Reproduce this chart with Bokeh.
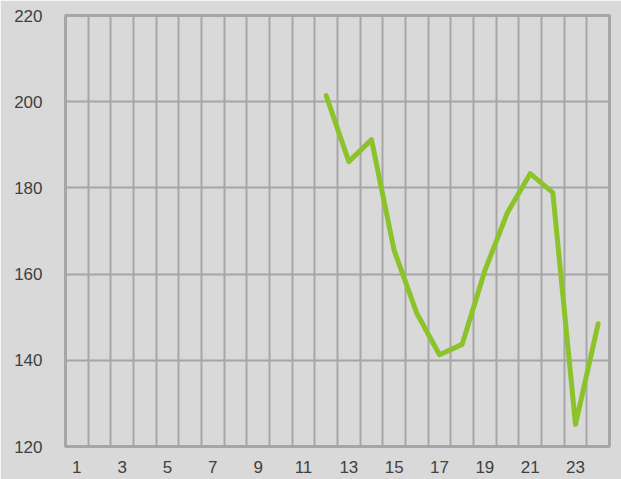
from bokeh.plotting import figure
from bokeh.models import FixedTicker, Range1d
from bokeh.embed import file_html
from bokeh.resources import INLINE

categories = list(range(1, 25))
x_values = [12, 13, 14, 15, 16, 17, 18, 19, 20, 21, 22, 23, 24]
y_values = [201.4, 186.1, 191.2, 165.5, 150.9, 141.3, 143.7, 160.8, 174.3, 183.3, 178.9, 125.1, 148.5]
x_tick_labels = [1, 3, 5, 7, 9, 11, 13, 15, 17, 19, 21, 23]
y_ticks = [120, 140, 160, 180, 200, 220]

BG = "#d9d9d9"
GRID = "#a6a6a6"
TEXT = "#404040"
FONT = "Liberation Sans"

p = figure(width=621, height=479, output_backend="svg", toolbar_location=None,
           x_range=Range1d(categories[0] - 0.5, categories[-1] + 0.5),
           y_range=Range1d(y_ticks[0], y_ticks[-1]),
           min_border_left=65, min_border_right=12, min_border_top=15, min_border_bottom=33)
p.background_fill_color = BG
p.border_fill_color = BG
p.outline_line_color = GRID
p.outline_line_width = 3

p.xaxis.ticker = FixedTicker(ticks=x_tick_labels)
p.yaxis.ticker = FixedTicker(ticks=y_ticks)
p.xgrid.ticker = FixedTicker(ticks=[c + 0.5 for c in categories[:-1]])
for g in (p.xgrid, p.ygrid):
    g.grid_line_color = GRID
    g.grid_line_width = 2
for ax in (p.xaxis, p.yaxis):
    ax.axis_line_color = None
    ax.major_tick_line_color = None
    ax.minor_tick_line_color = None
    ax.major_label_text_font = FONT
    ax.major_label_text_font_size = "17px"
    ax.major_label_text_color = TEXT
p.yaxis.major_label_standoff = 17
p.xaxis.major_label_standoff = 8

p.line(x_values, y_values, line_color="#8cc22a", line_width=5, line_cap="round", line_join="round")

open("out.html", "w").write(file_html(p, INLINE))
